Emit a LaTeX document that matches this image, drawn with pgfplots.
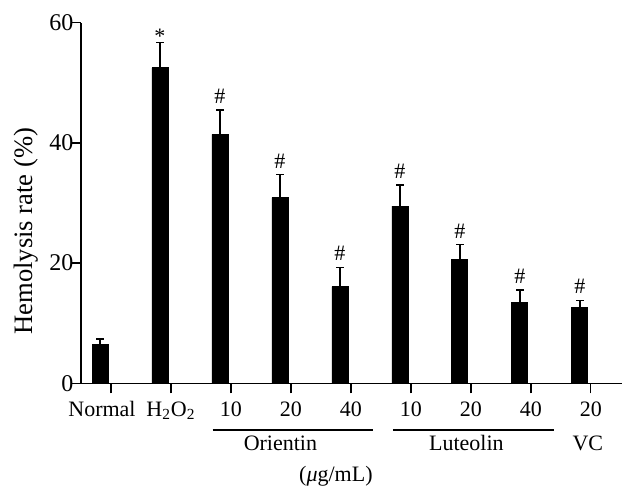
\documentclass[border=0pt]{standalone}
\usepackage{pgfplots}
\pgfplotsset{compat=1.18}
\usepackage{fontspec}
\setmainfont{Liberation Serif}
\tikzset{hashnode/.style={anchor=south, inner sep=0, yshift=3pt, font=\fontsize{11}{13}\selectfont}}
\pgfplotstableread{
x y e
-0.183 6.4 1.0
0.817 52.5 4.2
1.817 41.4 4.1
2.817 30.9 3.8
3.817 16.1 3.2
4.817 29.5 3.5
5.817 20.6 2.5
6.817 13.5 2.0
7.817 12.6 1.2
}\datatable
\begin{document}
\fontsize{11}{13}\selectfont
\begin{tikzpicture}
\path[use as bounding box] (-40.5pt,-58.85pt) rectangle (277.5pt,191.65pt);
\begin{axis}[
  scale only axis,
  width=270.5pt, height=180.3pt,
  xmin=-0.5, xmax=8.52,
  ymin=0, ymax=60,
  ytick={0,20,40,60},
  xtick={0,1,2,3,4,5,6,7,8},
  xticklabels={Normal\kern9pt,H\textsubscript{2}O\textsubscript{2},10,20,40,10,20,40,20},
  axis x line=bottom, axis y line=left,
  axis line style={-, line width=0.65pt},
  tick style={line width=0.65pt, black},
  tick align=outside,
  major tick length=5pt,
  /pgf/number format/assume math mode=true,
  tick label style={font=\fontsize{11}{13}\selectfont},
  yticklabel style={font=\fontsize{12}{14}\selectfont, xshift=5pt},
  xticklabel style={text height=7.5pt, text depth=2pt},
  ylabel={Hemolysis rate (\%)},
  ylabel style={at={(axis description cs:-0.1017,0.422)}, anchor=center, font=\fontsize{13.3}{15}\selectfont},
  clip=false,
]
\addplot[ybar, bar width=8pt, bar shift=0pt, fill=black, draw=black] table[x=x, y=y] {\datatable};
\addplot[draw=none, mark=none, forget plot,
  error bars/.cd, y dir=plus, y explicit,
  error bar style={draw=black, solid, line width=0.75pt},
  error mark=|,
  error mark options={draw=black, solid, line width=0.75pt, mark size=1.9pt}]
  table[x=x, y=y, y error=e] {\datatable};
\node[anchor=south, inner sep=0, yshift=-0.5pt, font=\fontsize{11}{13}\selectfont] at (axis cs:0.817,56.7) {*};
\node[hashnode] at (axis cs:1.817,45.5) {\#};
\node[hashnode] at (axis cs:2.817,34.7) {\#};
\node[hashnode] at (axis cs:3.817,19.3) {\#};
\node[hashnode] at (axis cs:4.817,33.0) {\#};
\node[hashnode] at (axis cs:5.817,23.1) {\#};
\node[hashnode] at (axis cs:6.817,15.5) {\#};
\node[hashnode] at (axis cs:7.817,13.8) {\#};
\draw[line width=0.65pt] (axis cs:1.695,-7.77) -- (axis cs:4.367,-7.77);
\draw[line width=0.65pt] (axis cs:4.70,-7.77) -- (axis cs:7.383,-7.77);
\node[anchor=base] at (axis cs:2.825,-11.1) {Orientin};
\node[anchor=base] at (axis cs:5.925,-11.1) {Luteolin};
\node[anchor=base] at (axis cs:7.95,-11.1) {VC};
\node[anchor=base] at (axis cs:3.75,-16.37) {(\textit{μ}g/mL)};
\end{axis}
\end{tikzpicture}
\end{document}
